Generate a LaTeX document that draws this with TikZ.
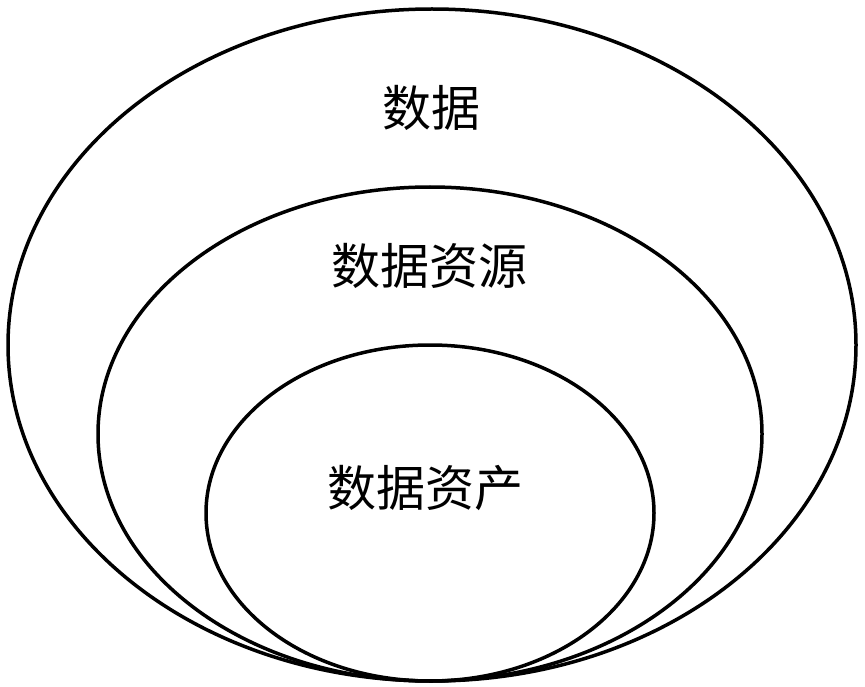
\documentclass[tikz,border=0pt]{standalone}
\usepackage{fontspec}
\newfontfamily\cjk{Noto Sans CJK SC}
\begin{document}
\begin{tikzpicture}[x=1pt,y=-1pt,
  ring/.style={draw=black,line width=3.5pt},
  lbl/.style={font=\cjk\fontsize{49}{52}\selectfont,inner sep=0pt}]
\useasboundingbox (0,0) rectangle (865,687);
\draw[ring] (432,345) ellipse [x radius=424, y radius=336];
\draw[ring] (430,434) ellipse [x radius=332, y radius=247];
\draw[ring] (430,513) ellipse [x radius=224, y radius=168];
\node[lbl] (t1) at (431,108) {数据};
\node[lbl] (t2) at (429,266) {数据资源};
\node[lbl] (t3) at (425,488) {数据资产};
\end{tikzpicture}
\end{document}
